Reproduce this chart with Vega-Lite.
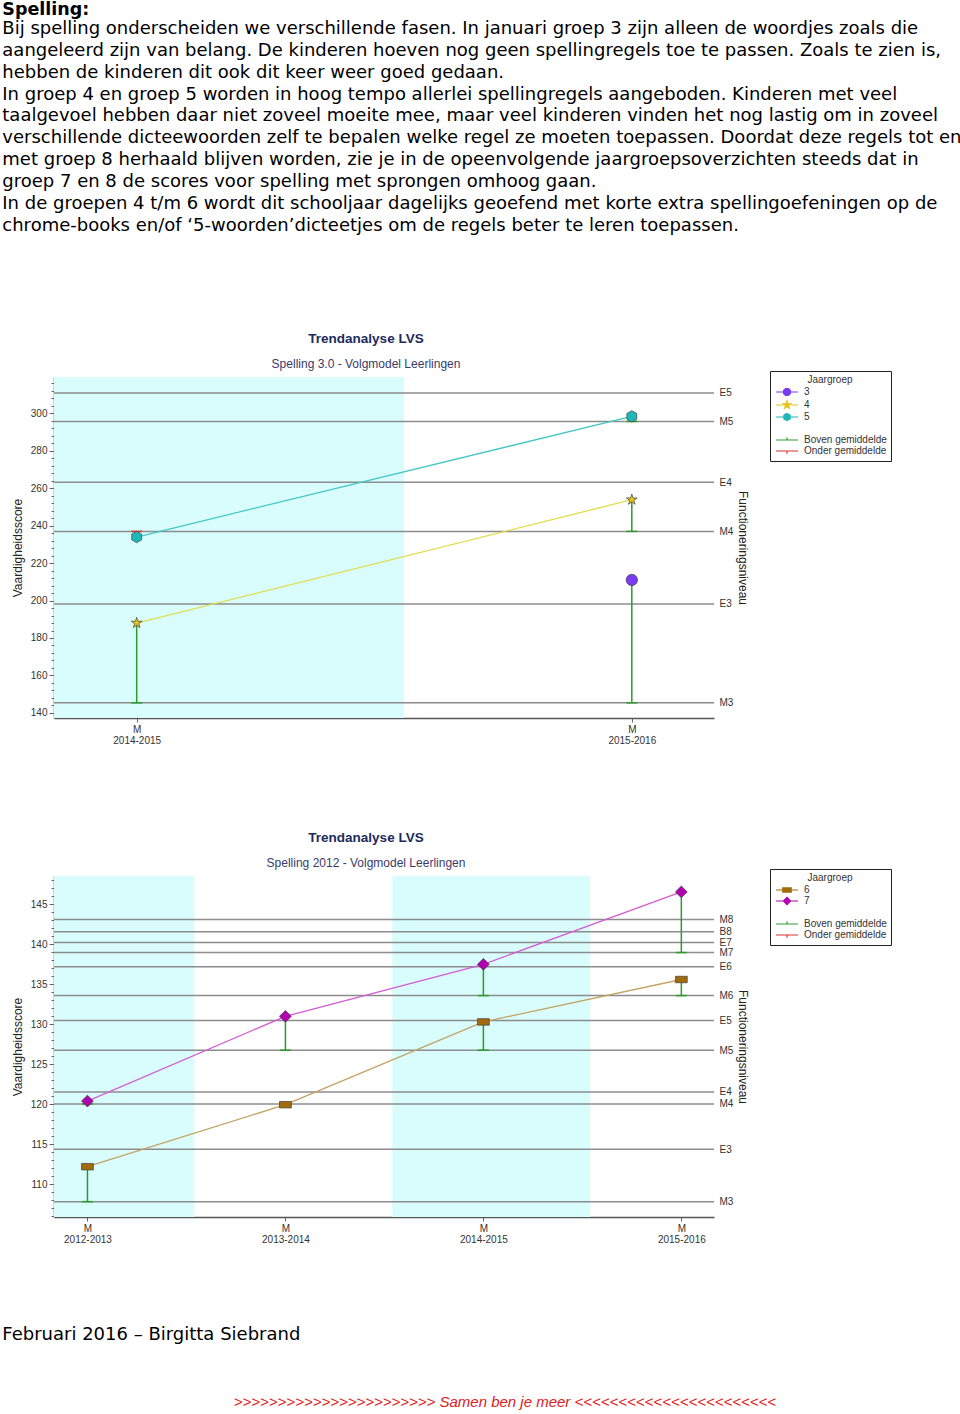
{
  "$schema": "https://vega.github.io/schema/vega-lite/v6.json",
  "background": "white",
  "padding": {"left": 2, "top": 1, "right": 2, "bottom": 2},
  "config": {
    "view": {"stroke": null},
    "font": "Liberation Sans",
    "axis": {"labelFont": "Liberation Sans", "titleFont": "Liberation Sans", "labelFontSize": 10, "labelColor": "#333333", "titleColor": "#222222", "titleFontWeight": "normal", "titleFontSize": 12, "domainColor": "#555555", "domainWidth": 1.5, "tickColor": "#666666", "grid": false},
    "legend": {"titleFont": "Liberation Sans", "titleFontSize": 10, "titleFontWeight": "normal", "titleColor": "#333333", "labelFont": "Liberation Sans", "labelFontSize": 10, "labelColor": "#333333"}
  },
  "title": {
    "text": "Spelling:",
    "subtitle": [
      "Bij spelling onderscheiden we verschillende fasen. In januari groep 3 zijn alleen de woordjes zoals die",
      "aangeleerd zijn van belang. De kinderen hoeven nog geen spellingregels toe te passen. Zoals te zien is,",
      "hebben de kinderen dit ook dit keer weer goed gedaan.",
      "In groep 4 en groep 5 worden in hoog tempo allerlei spellingregels aangeboden. Kinderen met veel",
      "taalgevoel hebben daar niet zoveel moeite mee, maar veel kinderen vinden het nog lastig om in zoveel",
      "verschillende dicteewoorden zelf te bepalen welke regel ze moeten toepassen. Doordat deze regels tot en",
      "met groep 8 herhaald blijven worden, zie je in de opeenvolgende jaargroepsoverzichten steeds dat in",
      "groep 7 en 8 de scores voor spelling met sprongen omhoog gaan.",
      "In de groepen 4 t/m 6 wordt dit schooljaar dagelijks geoefend met korte extra spellingoefeningen op de",
      "chrome-books en/of ‘5-woorden’dicteetjes om de regels beter te leren toepassen."
    ],
    "anchor": "start",
    "dx": 0,
    "offset": 97,
    "font": "DejaVu Sans",
    "fontSize": 17.5,
    "fontWeight": "bold",
    "color": "#000000",
    "subtitleFont": "DejaVu Sans",
    "subtitleFontSize": 18,
    "subtitleColor": "#000000",
    "subtitleLineHeight": 21.9,
    "subtitlePadding": 1
  },
  "datasets": {
    "bands1": [{"start": -0.46, "end": 0.54}],
    "norms1": [
      {"niveau": "M3", "waarde": 145.4},
      {"niveau": "E3", "waarde": 198.2},
      {"niveau": "M4", "waarde": 236.9},
      {"niveau": "E4", "waarde": 263.1},
      {"niveau": "M5", "waarde": 295.6},
      {"niveau": "E5", "waarde": 310.8}
    ],
    "scores1": [
      {"groep": "3", "t": 1, "jaar": "2015-2016", "score": 211.0, "norm": 145.4, "status": "Boven gemiddelde"},
      {"groep": "4", "t": 0, "jaar": "2014-2015", "score": 188.0, "norm": 145.4, "status": "Boven gemiddelde"},
      {"groep": "4", "t": 1, "jaar": "2015-2016", "score": 253.8, "norm": 236.9, "status": "Boven gemiddelde"},
      {"groep": "5", "t": 0, "jaar": "2014-2015", "score": 233.9, "norm": 236.9, "status": "Onder gemiddelde"},
      {"groep": "5", "t": 1, "jaar": "2015-2016", "score": 298.3, "norm": 295.6, "status": "Boven gemiddelde"}
    ],
    "bands2": [{"start": -0.46, "end": 0.54}, {"start": 1.54, "end": 2.54}],
    "norms2": [
      {"niveau": "M3", "waarde": 107.83},
      {"niveau": "E3", "waarde": 114.39},
      {"niveau": "M4", "waarde": 120.04},
      {"niveau": "E4", "waarde": 121.55},
      {"niveau": "M5", "waarde": 126.76},
      {"niveau": "E5", "waarde": 130.46},
      {"niveau": "M6", "waarde": 133.59},
      {"niveau": "E6", "waarde": 137.19},
      {"niveau": "M7", "waarde": 138.97},
      {"niveau": "E7", "waarde": 140.22},
      {"niveau": "B8", "waarde": 141.57},
      {"niveau": "M8", "waarde": 143.1}
    ],
    "scores2": [
      {"groep": "6", "t": 0, "jaar": "2012-2013", "score": 112.2, "norm": 107.83, "status": "Boven gemiddelde"},
      {"groep": "6", "t": 1, "jaar": "2013-2014", "score": 119.95, "norm": 120.04, "status": "Onder gemiddelde"},
      {"groep": "6", "t": 2, "jaar": "2014-2015", "score": 130.3, "norm": 126.76, "status": "Boven gemiddelde"},
      {"groep": "6", "t": 3, "jaar": "2015-2016", "score": 135.6, "norm": 133.59, "status": "Boven gemiddelde"},
      {"groep": "7", "t": 0, "jaar": "2012-2013", "score": 120.4, "norm": 120.04, "status": "Boven gemiddelde"},
      {"groep": "7", "t": 1, "jaar": "2013-2014", "score": 131.0, "norm": 126.76, "status": "Boven gemiddelde"},
      {"groep": "7", "t": 2, "jaar": "2014-2015", "score": 137.5, "norm": 133.59, "status": "Boven gemiddelde"},
      {"groep": "7", "t": 3, "jaar": "2015-2016", "score": 146.55, "norm": 138.97, "status": "Boven gemiddelde"}
    ]
  },
  "resolve": {"scale": {"color": "independent", "shape": "independent", "stroke": "independent"}, "legend": {"color": "independent"}},
  "spacing": 86,
  "vconcat": [
    {
      "width": 660,
      "height": 341,
      "title": {"text": "Trendanalyse LVS", "subtitle": "Spelling 3.0 - Volgmodel Leerlingen", "anchor": "middle", "dx": -18, "offset": 1, "font": "Liberation Sans", "fontSize": 13.5, "fontWeight": "bold", "color": "#1c2a5c", "subtitleFont": "Liberation Sans", "subtitleFontSize": 12, "subtitleColor": "#3a3a6a", "subtitlePadding": 13},
      "resolve": {"axis": {"y": "independent"}},
      "layer": [
        {
          "data": {"name": "bands1"},
          "mark": {"type": "rect", "color": "#d9fdfd", "clip": true},
          "encoding": {
            "x": {"field": "start", "type": "quantitative", "scale": {"domain": [-0.167, 1.166], "nice": false, "zero": false},
              "axis": {"values": [0, 1], "labelExpr": "['M', ['2014-2015','2015-2016'][datum.value]]", "title": null, "tickSize": 4, "labelPadding": 2, "labelLineHeight": 11}},
            "x2": {"field": "end"}
          }
        },
        {
          "data": {"name": "norms1"},
          "mark": {"type": "rule", "color": "#8c8c8c", "strokeWidth": 1.5},
          "encoding": {
            "y": {"field": "waarde", "type": "quantitative", "scale": {"domain": [137.3, 319.3], "nice": false, "zero": false},
              "axis": {"orient": "right", "values": [145.4, 198.2, 236.9, 263.1, 295.6, 310.8], "labelExpr": "['M3','E3','M4','E4','M5','E5'][indexof([145.4,198.2,236.9,263.1,295.6,310.8], datum.value)]", "domain": false, "ticks": false, "labelPadding": 5, "labelOverlap": false, "title": "Functioneringsniveau", "titlePadding": 3}}
          }
        },
        {
          "data": {"name": "scores1"},
          "mark": {"type": "line", "strokeWidth": 1.3},
          "encoding": {
            "x": {"field": "t", "type": "quantitative", "scale": {"domain": [-0.167, 1.166], "nice": false, "zero": false},
              "axis": {"values": [0, 1], "labelExpr": "['M', ['2014-2015','2015-2016'][datum.value]]", "title": null, "tickSize": 4, "labelPadding": 2, "labelLineHeight": 11}},
            "y": {"field": "score", "type": "quantitative", "scale": {"domain": [137.3, 319.3], "nice": false, "zero": false}, "axis": null},
            "stroke": {"field": "groep", "type": "nominal", "scale": {"domain": ["3", "4", "5"], "range": ["#9a70f0", "#e2dc50", "#45c6c6"]}, "legend": null},
            "order": {"field": "t"}
          }
        },
        {
          "data": {"name": "scores1"},
          "mark": {"type": "rule", "strokeWidth": 1.5},
          "encoding": {
            "x": {"field": "t", "type": "quantitative", "scale": {"domain": [-0.167, 1.166], "nice": false, "zero": false},
              "axis": {"values": [0, 1], "labelExpr": "['M', ['2014-2015','2015-2016'][datum.value]]", "title": null, "tickSize": 4, "labelPadding": 2, "labelLineHeight": 11}},
            "y": {"field": "norm", "type": "quantitative", "scale": {"domain": [137.3, 319.3], "nice": false, "zero": false}, "axis": null},
            "y2": {"field": "score"},
            "color": {"field": "status", "type": "nominal", "scale": {"domain": ["3", "4", "5", " ", "Boven gemiddelde", "Onder gemiddelde"], "range": ["#7a3cf0", "#e8c21a", "#1fb8b8", "#ffffff", "#2e9a2e", "#e03030"]},
              "legend": {"title": "Jaargroep", "orient": "none", "legendX": 716, "legendY": -6, "direction": "vertical", "strokeColor": "#222222", "fillColor": "#ffffff", "padding": 4, "titleAnchor": "middle", "titlePadding": 1, "symbolSize": 100, "symbolOffset": 7, "labelOffset": 11, "rowPadding": 0,
                "encode": {"symbols": {"update": {
                  "shape": {"signal": "datum.value === '3' ? 'M-2.2,0L-0.75,0M0.75,0L2.2,0M0.693,0.287L0.287,0.693L-0.287,0.693L-0.693,0.287L-0.693,-0.287L-0.287,-0.693L0.287,-0.693L0.693,-0.287Z' : datum.value === '4' ? 'M-2.2,0L-0.78,0M0.78,0L2.2,0M0,-0.8L0.18,-0.247L0.761,-0.247L0.29,0.094L0.47,0.647L0,0.306L-0.47,0.647L-0.29,0.094L-0.761,-0.247L-0.18,-0.247Z' : datum.value === '5' ? 'M-2.2,0L-0.62,0M0.62,0L2.2,0M0,-0.72L0.624,-0.36L0.624,0.36L0,0.72L-0.624,0.36L-0.624,-0.36Z' : datum.value === 'Boven gemiddelde' ? 'M-2.2,0L2.2,0M0,0L0,-0.5' : datum.value === 'Onder gemiddelde' ? 'M-2.2,0L2.2,0M0,0L0,0.55' : 'M0,0'"},
                  "fill": {"signal": "datum.value === '3' ? '#7a3cf0' : datum.value === '4' ? '#e8c21a' : datum.value === '5' ? '#1fb8b8' : 'transparent'"},
                  "stroke": {"signal": "datum.value === '3' ? '#9a70f0' : datum.value === '4' ? '#d8d040' : datum.value === '5' ? '#45c6c6' : datum.value === 'Boven gemiddelde' ? '#2e9a2e' : datum.value === 'Onder gemiddelde' ? '#e03030' : 'transparent'"},
                  "strokeWidth": {"value": 1.2},
                  "opacity": {"value": 1}
                }}}}}
          }
        },
        {
          "data": {"name": "scores1"},
          "mark": {"type": "tick", "orient": "horizontal", "size": 11, "thickness": 1.5, "opacity": 1},
          "encoding": {
            "x": {"field": "t", "type": "quantitative", "scale": {"domain": [-0.167, 1.166], "nice": false, "zero": false},
              "axis": {"values": [0, 1], "labelExpr": "['M', ['2014-2015','2015-2016'][datum.value]]", "title": null, "tickSize": 4, "labelPadding": 2, "labelLineHeight": 11}},
            "y": {"field": "norm", "type": "quantitative", "scale": {"domain": [137.3, 319.3], "nice": false, "zero": false}, "axis": null},
            "color": {"field": "status", "type": "nominal", "scale": {"domain": ["3", "4", "5", " ", "Boven gemiddelde", "Onder gemiddelde"], "range": ["#7a3cf0", "#e8c21a", "#1fb8b8", "#ffffff", "#2e9a2e", "#e03030"]},
              "legend": {"title": "Jaargroep", "orient": "none", "legendX": 716, "legendY": -6, "direction": "vertical", "strokeColor": "#222222", "fillColor": "#ffffff", "padding": 4, "titleAnchor": "middle", "titlePadding": 1, "symbolSize": 100, "symbolOffset": 7, "labelOffset": 11, "rowPadding": 0,
                "encode": {"symbols": {"update": {
                  "shape": {"signal": "datum.value === '3' ? 'M-2.2,0L-0.75,0M0.75,0L2.2,0M0.693,0.287L0.287,0.693L-0.287,0.693L-0.693,0.287L-0.693,-0.287L-0.287,-0.693L0.287,-0.693L0.693,-0.287Z' : datum.value === '4' ? 'M-2.2,0L-0.78,0M0.78,0L2.2,0M0,-0.8L0.18,-0.247L0.761,-0.247L0.29,0.094L0.47,0.647L0,0.306L-0.47,0.647L-0.29,0.094L-0.761,-0.247L-0.18,-0.247Z' : datum.value === '5' ? 'M-2.2,0L-0.62,0M0.62,0L2.2,0M0,-0.72L0.624,-0.36L0.624,0.36L0,0.72L-0.624,0.36L-0.624,-0.36Z' : datum.value === 'Boven gemiddelde' ? 'M-2.2,0L2.2,0M0,0L0,-0.5' : datum.value === 'Onder gemiddelde' ? 'M-2.2,0L2.2,0M0,0L0,0.55' : 'M0,0'"},
                  "fill": {"signal": "datum.value === '3' ? '#7a3cf0' : datum.value === '4' ? '#e8c21a' : datum.value === '5' ? '#1fb8b8' : 'transparent'"},
                  "stroke": {"signal": "datum.value === '3' ? '#9a70f0' : datum.value === '4' ? '#d8d040' : datum.value === '5' ? '#45c6c6' : datum.value === 'Boven gemiddelde' ? '#2e9a2e' : datum.value === 'Onder gemiddelde' ? '#e03030' : 'transparent'"},
                  "strokeWidth": {"value": 1.2},
                  "opacity": {"value": 1}
                }}}}}
          }
        },
        {
          "data": {"name": "scores1"},
          "mark": {"type": "point", "filled": true, "opacity": 1, "size": 130, "stroke": "#404040", "strokeWidth": 0.7},
          "encoding": {
            "x": {"field": "t", "type": "quantitative", "scale": {"domain": [-0.167, 1.166], "nice": false, "zero": false},
              "axis": {"values": [0, 1], "labelExpr": "['M', ['2014-2015','2015-2016'][datum.value]]", "title": null, "tickSize": 4, "labelPadding": 2, "labelLineHeight": 11}},
            "y": {"field": "score", "type": "quantitative", "scale": {"domain": [137.3, 319.3], "nice": false, "zero": false},
              "axis": {"orient": "left", "values": [140,144,148,152,156,160,164,168,172,176,180,184,188,192,196,200,204,208,212,216,220,224,228,232,236,240,244,248,252,256,260,264,268,272,276,280,284,288,292,296,300,304,308,312,316], "labelExpr": "datum.value % 20 === 0 ? datum.label : ''", "tickSize": {"condition": {"test": "datum.value % 20 === 0", "value": 5}, "value": 3}, "labelOverlap": false, "labelPadding": 2, "title": "Vaardigheidsscore", "titlePadding": 6}},
            "color": {"field": "groep", "type": "nominal", "scale": {"domain": ["3", "4", "5", " ", "Boven gemiddelde", "Onder gemiddelde"], "range": ["#7a3cf0", "#e8c21a", "#1fb8b8", "#ffffff", "#2e9a2e", "#e03030"]},
              "legend": {"title": "Jaargroep", "orient": "none", "legendX": 716, "legendY": -6, "direction": "vertical", "strokeColor": "#222222", "fillColor": "#ffffff", "padding": 4, "titleAnchor": "middle", "titlePadding": 1, "symbolSize": 100, "symbolOffset": 7, "labelOffset": 11, "rowPadding": 0,
                "encode": {"symbols": {"update": {
                  "shape": {"signal": "datum.value === '3' ? 'M-2.2,0L-0.75,0M0.75,0L2.2,0M0.693,0.287L0.287,0.693L-0.287,0.693L-0.693,0.287L-0.693,-0.287L-0.287,-0.693L0.287,-0.693L0.693,-0.287Z' : datum.value === '4' ? 'M-2.2,0L-0.78,0M0.78,0L2.2,0M0,-0.8L0.18,-0.247L0.761,-0.247L0.29,0.094L0.47,0.647L0,0.306L-0.47,0.647L-0.29,0.094L-0.761,-0.247L-0.18,-0.247Z' : datum.value === '5' ? 'M-2.2,0L-0.62,0M0.62,0L2.2,0M0,-0.72L0.624,-0.36L0.624,0.36L0,0.72L-0.624,0.36L-0.624,-0.36Z' : datum.value === 'Boven gemiddelde' ? 'M-2.2,0L2.2,0M0,0L0,-0.5' : datum.value === 'Onder gemiddelde' ? 'M-2.2,0L2.2,0M0,0L0,0.55' : 'M0,0'"},
                  "fill": {"signal": "datum.value === '3' ? '#7a3cf0' : datum.value === '4' ? '#e8c21a' : datum.value === '5' ? '#1fb8b8' : 'transparent'"},
                  "stroke": {"signal": "datum.value === '3' ? '#9a70f0' : datum.value === '4' ? '#d8d040' : datum.value === '5' ? '#45c6c6' : datum.value === 'Boven gemiddelde' ? '#2e9a2e' : datum.value === 'Onder gemiddelde' ? '#e03030' : 'transparent'"},
                  "strokeWidth": {"value": 1.2},
                  "opacity": {"value": 1}
                }}}}},
            "shape": {"field": "groep", "type": "nominal", "scale": {"domain": ["3", "4", "5"], "range": ["circle", "M0,-1L0.225,-0.309L0.951,-0.309L0.363,0.118L0.588,0.809L0,0.382L-0.588,0.809L-0.363,0.118L-0.951,-0.309L-0.225,-0.309Z", "M0,-1L0.866,-0.5L0.866,0.5L0,1L-0.866,0.5L-0.866,-0.5Z"]}, "legend": null}
          }
        }
      ]
    },
    {
      "resolve": {"scale": {"color": "independent", "shape": "independent", "stroke": "independent"}, "legend": {"color": "independent"}},
      "title": {"text": ">>>>>>>>>>>>>>>>>>>>>>> Samen ben je meer <<<<<<<<<<<<<<<<<<<<<<<", "orient": "bottom", "anchor": "middle", "dx": 58, "offset": 51, "font": "Liberation Sans", "fontStyle": "italic", "fontSize": 15, "fontWeight": "normal", "color": "#e02020"},
      "vconcat": [
        {
          "resolve": {"scale": {"color": "independent", "shape": "independent", "stroke": "independent"}, "legend": {"color": "independent"}},
          "title": {"text": "Februari 2016 – Birgitta Siebrand", "orient": "bottom", "anchor": "start", "dx": -9, "offset": 82, "font": "DejaVu Sans", "fontSize": 18, "fontWeight": "normal", "color": "#000000"},
          "vconcat": [
            {
              "width": 660,
              "height": 341,
              "title": {"text": "Trendanalyse LVS", "subtitle": "Spelling 2012 - Volgmodel Leerlingen", "anchor": "middle", "dx": -18, "offset": 0, "font": "Liberation Sans", "fontSize": 13.5, "fontWeight": "bold", "color": "#1c2a5c", "subtitleFont": "Liberation Sans", "subtitleFontSize": 12, "subtitleColor": "#3a3a6a", "subtitlePadding": 13},
              "resolve": {"axis": {"y": "independent"}},
              "layer": [
                {
                  "data": {"name": "bands2"},
                  "mark": {"type": "rect", "color": "#d9fdfd", "clip": true},
                  "encoding": {
                    "x": {"field": "start", "type": "quantitative", "scale": {"domain": [-0.169, 3.165], "nice": false, "zero": false},
                      "axis": {"values": [0, 1, 2, 3], "labelExpr": "['M', ['2012-2013','2013-2014','2014-2015','2015-2016'][datum.value]]", "title": null, "tickSize": 4, "labelPadding": 2, "labelLineHeight": 11}},
                    "x2": {"field": "end"}
                  }
                },
                {
                  "data": {"name": "norms2"},
                  "mark": {"type": "rule", "color": "#8c8c8c", "strokeWidth": 1.5},
                  "encoding": {
                    "y": {"field": "waarde", "type": "quantitative", "scale": {"domain": [105.91, 148.54], "nice": false, "zero": false},
                      "axis": {"orient": "right", "values": [107.83, 114.39, 120.04, 121.55, 126.76, 130.46, 133.59, 137.19, 138.97, 140.22, 141.57, 143.1], "labelExpr": "['M3','E3','M4','E4','M5','E5','M6','E6','M7','E7','B8','M8'][indexof([107.83,114.39,120.04,121.55,126.76,130.46,133.59,137.19,138.97,140.22,141.57,143.1], datum.value)]", "domain": false, "ticks": false, "labelPadding": 5, "labelOverlap": false, "title": "Functioneringsniveau", "titlePadding": 3}}
                  }
                },
                {
                  "data": {"name": "scores2"},
                  "mark": {"type": "line", "strokeWidth": 1.3},
                  "encoding": {
                    "x": {"field": "t", "type": "quantitative", "scale": {"domain": [-0.169, 3.165], "nice": false, "zero": false},
                      "axis": {"values": [0, 1, 2, 3], "labelExpr": "['M', ['2012-2013','2013-2014','2014-2015','2015-2016'][datum.value]]", "title": null, "tickSize": 4, "labelPadding": 2, "labelLineHeight": 11}},
                    "y": {"field": "score", "type": "quantitative", "scale": {"domain": [105.91, 148.54], "nice": false, "zero": false}, "axis": null},
                    "stroke": {"field": "groep", "type": "nominal", "scale": {"domain": ["6", "7"], "range": ["#c4a264", "#d35cd3"]}, "legend": null},
                    "order": {"field": "t"}
                  }
                },
                {
                  "data": {"name": "scores2"},
                  "mark": {"type": "rule", "strokeWidth": 1.5},
                  "encoding": {
                    "x": {"field": "t", "type": "quantitative", "scale": {"domain": [-0.169, 3.165], "nice": false, "zero": false},
                      "axis": {"values": [0, 1, 2, 3], "labelExpr": "['M', ['2012-2013','2013-2014','2014-2015','2015-2016'][datum.value]]", "title": null, "tickSize": 4, "labelPadding": 2, "labelLineHeight": 11}},
                    "y": {"field": "norm", "type": "quantitative", "scale": {"domain": [105.91, 148.54], "nice": false, "zero": false}, "axis": null},
                    "y2": {"field": "score"},
                    "color": {"field": "status", "type": "nominal", "scale": {"domain": ["6", "7", " ", "Boven gemiddelde", "Onder gemiddelde"], "range": ["#a36b0c", "#b000b0", "#ffffff", "#2e9a2e", "#e03030"]},
                      "legend": {"title": "Jaargroep", "orient": "none", "legendX": 716, "legendY": -7, "direction": "vertical", "strokeColor": "#222222", "fillColor": "#ffffff", "padding": 4, "titleAnchor": "middle", "titlePadding": 1, "symbolSize": 100, "symbolOffset": 7, "labelOffset": 11, "rowPadding": 0,
                        "encode": {"symbols": {"update": {
                          "shape": {"signal": "datum.value === '6' ? 'M-2.2,0L-0.85,0M0.85,0L2.2,0M-0.85,-0.42L0.85,-0.42L0.85,0.42L-0.85,0.42Z' : datum.value === '7' ? 'M-2.2,0L-0.72,0M0.72,0L2.2,0M0,-0.72L0.72,0L0,0.72L-0.72,0Z' : datum.value === 'Boven gemiddelde' ? 'M-2.2,0L2.2,0M0,0L0,-0.5' : datum.value === 'Onder gemiddelde' ? 'M-2.2,0L2.2,0M0,0L0,0.55' : 'M0,0'"},
                          "fill": {"signal": "datum.value === '6' ? '#a36b0c' : datum.value === '7' ? '#b000b0' : 'transparent'"},
                          "stroke": {"signal": "datum.value === '6' ? '#b8965a' : datum.value === '7' ? '#d35cd3' : datum.value === 'Boven gemiddelde' ? '#2e9a2e' : datum.value === 'Onder gemiddelde' ? '#e03030' : 'transparent'"},
                          "strokeWidth": {"value": 1.2},
                          "opacity": {"value": 1}
                        }}}}}
                  }
                },
                {
                  "data": {"name": "scores2"},
                  "mark": {"type": "tick", "orient": "horizontal", "size": 11, "thickness": 1.5, "opacity": 1},
                  "encoding": {
                    "x": {"field": "t", "type": "quantitative", "scale": {"domain": [-0.169, 3.165], "nice": false, "zero": false},
                      "axis": {"values": [0, 1, 2, 3], "labelExpr": "['M', ['2012-2013','2013-2014','2014-2015','2015-2016'][datum.value]]", "title": null, "tickSize": 4, "labelPadding": 2, "labelLineHeight": 11}},
                    "y": {"field": "norm", "type": "quantitative", "scale": {"domain": [105.91, 148.54], "nice": false, "zero": false}, "axis": null},
                    "color": {"field": "status", "type": "nominal", "scale": {"domain": ["6", "7", " ", "Boven gemiddelde", "Onder gemiddelde"], "range": ["#a36b0c", "#b000b0", "#ffffff", "#2e9a2e", "#e03030"]},
                      "legend": {"title": "Jaargroep", "orient": "none", "legendX": 716, "legendY": -7, "direction": "vertical", "strokeColor": "#222222", "fillColor": "#ffffff", "padding": 4, "titleAnchor": "middle", "titlePadding": 1, "symbolSize": 100, "symbolOffset": 7, "labelOffset": 11, "rowPadding": 0,
                        "encode": {"symbols": {"update": {
                          "shape": {"signal": "datum.value === '6' ? 'M-2.2,0L-0.85,0M0.85,0L2.2,0M-0.85,-0.42L0.85,-0.42L0.85,0.42L-0.85,0.42Z' : datum.value === '7' ? 'M-2.2,0L-0.72,0M0.72,0L2.2,0M0,-0.72L0.72,0L0,0.72L-0.72,0Z' : datum.value === 'Boven gemiddelde' ? 'M-2.2,0L2.2,0M0,0L0,-0.5' : datum.value === 'Onder gemiddelde' ? 'M-2.2,0L2.2,0M0,0L0,0.55' : 'M0,0'"},
                          "fill": {"signal": "datum.value === '6' ? '#a36b0c' : datum.value === '7' ? '#b000b0' : 'transparent'"},
                          "stroke": {"signal": "datum.value === '6' ? '#b8965a' : datum.value === '7' ? '#d35cd3' : datum.value === 'Boven gemiddelde' ? '#2e9a2e' : datum.value === 'Onder gemiddelde' ? '#e03030' : 'transparent'"},
                          "strokeWidth": {"value": 1.2},
                          "opacity": {"value": 1}
                        }}}}}
                  }
                },
                {
                  "data": {"name": "scores2"},
                  "mark": {"type": "point", "filled": true, "opacity": 1, "size": 140, "stroke": "#404040", "strokeWidth": 0.7},
                  "encoding": {
                    "x": {"field": "t", "type": "quantitative", "scale": {"domain": [-0.169, 3.165], "nice": false, "zero": false},
                      "axis": {"values": [0, 1, 2, 3], "labelExpr": "['M', ['2012-2013','2013-2014','2014-2015','2015-2016'][datum.value]]", "title": null, "tickSize": 4, "labelPadding": 2, "labelLineHeight": 11}},
                    "y": {"field": "score", "type": "quantitative", "scale": {"domain": [105.91, 148.54], "nice": false, "zero": false},
                      "axis": {"orient": "left", "values": [106,107,108,109,110,111,112,113,114,115,116,117,118,119,120,121,122,123,124,125,126,127,128,129,130,131,132,133,134,135,136,137,138,139,140,141,142,143,144,145,146,147,148], "labelExpr": "datum.value % 5 === 0 ? datum.label : ''", "tickSize": {"condition": {"test": "datum.value % 5 === 0", "value": 5}, "value": 3}, "labelOverlap": false, "labelPadding": 2, "title": "Vaardigheidsscore", "titlePadding": 6}},
                    "color": {"field": "groep", "type": "nominal", "scale": {"domain": ["6", "7", " ", "Boven gemiddelde", "Onder gemiddelde"], "range": ["#a36b0c", "#b000b0", "#ffffff", "#2e9a2e", "#e03030"]},
                      "legend": {"title": "Jaargroep", "orient": "none", "legendX": 716, "legendY": -7, "direction": "vertical", "strokeColor": "#222222", "fillColor": "#ffffff", "padding": 4, "titleAnchor": "middle", "titlePadding": 1, "symbolSize": 100, "symbolOffset": 7, "labelOffset": 11, "rowPadding": 0,
                        "encode": {"symbols": {"update": {
                          "shape": {"signal": "datum.value === '6' ? 'M-2.2,0L-0.85,0M0.85,0L2.2,0M-0.85,-0.42L0.85,-0.42L0.85,0.42L-0.85,0.42Z' : datum.value === '7' ? 'M-2.2,0L-0.72,0M0.72,0L2.2,0M0,-0.72L0.72,0L0,0.72L-0.72,0Z' : datum.value === 'Boven gemiddelde' ? 'M-2.2,0L2.2,0M0,0L0,-0.5' : datum.value === 'Onder gemiddelde' ? 'M-2.2,0L2.2,0M0,0L0,0.55' : 'M0,0'"},
                          "fill": {"signal": "datum.value === '6' ? '#a36b0c' : datum.value === '7' ? '#b000b0' : 'transparent'"},
                          "stroke": {"signal": "datum.value === '6' ? '#b8965a' : datum.value === '7' ? '#d35cd3' : datum.value === 'Boven gemiddelde' ? '#2e9a2e' : datum.value === 'Onder gemiddelde' ? '#e03030' : 'transparent'"},
                          "strokeWidth": {"value": 1.2},
                          "opacity": {"value": 1}
                        }}}}},
                    "shape": {"field": "groep", "type": "nominal", "scale": {"domain": ["6", "7"], "range": ["M-1,-0.55L1,-0.55L1,0.55L-1,0.55Z", "diamond"]}, "legend": null}
                  }
                }
              ]
            }
          ]
        }
      ]
    }
  ]
}
